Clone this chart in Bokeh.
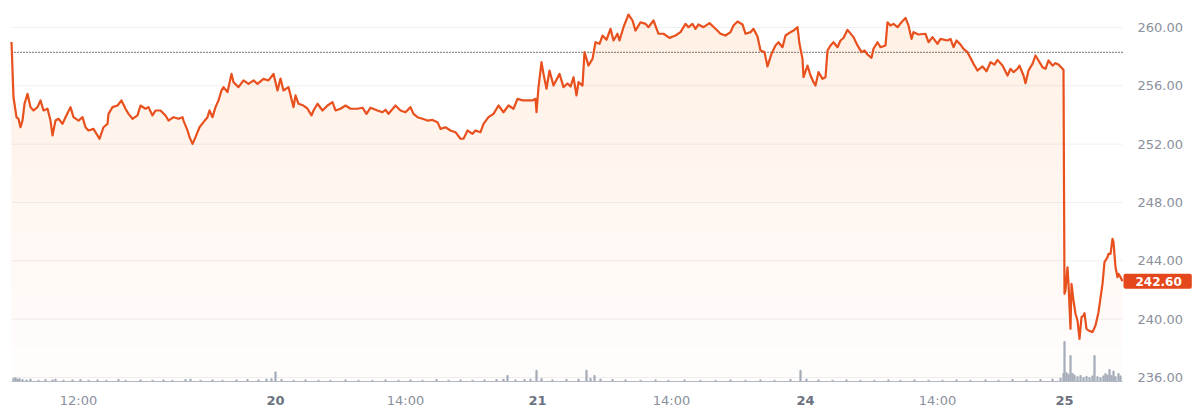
from bokeh.plotting import figure
from bokeh.models import Range1d
from bokeh.core.properties import value
from bokeh.embed import file_html
from bokeh.resources import INLINE

# trading-time position of each reading and the price
t = [11, 13, 16, 18, 20, 22, 24, 27, 30, 33,
     37, 40, 43, 47, 50, 52, 55, 58, 62, 65,
     70, 73, 78, 82, 85, 88, 93, 99, 103, 107,
     108, 112, 117, 121, 125, 128, 132, 137, 140, 145,
     148, 152, 155, 160, 165, 168, 173, 178, 182, 183,
     187, 189, 192, 195, 199, 203, 207, 209, 212, 215,
     218, 221, 223, 227, 231, 233, 238, 243, 248, 253,
     257, 263, 268, 273, 277, 280, 283, 288, 293, 295,
     298, 303, 307, 311, 313, 317, 322, 327, 332, 335,
     340, 345, 350, 357, 362, 366, 370, 377, 382, 385,
     388, 395, 400, 405, 410, 413, 417, 422, 427, 432,
     437, 440, 445, 450, 455, 460, 463, 467, 472, 475,
     480, 483, 488, 493, 498, 503, 508, 513, 517, 522,
     527, 532, 535, 536, 538, 541, 543, 546, 549, 553,
     559, 563, 567, 570, 573, 576, 578, 582, 584, 588,
     592, 595, 599, 602, 606, 610, 613, 617, 619, 623,
     628, 632, 635, 640, 645, 648, 653, 658, 663, 669,
     675, 680, 685, 688, 692, 695, 698, 703, 709, 715,
     720, 725, 730, 733, 737, 742, 745, 750, 753, 757,
     760, 764, 767, 771, 775, 778, 782, 785, 790, 793,
     797, 799, 802, 803, 807, 810, 813, 815, 818, 822,
     825, 827, 830, 833, 837, 840, 843, 847, 853, 857,
     861, 864, 867, 871, 873, 877, 880, 885, 887, 890,
     893, 897, 901, 905, 908, 911, 913, 918, 925, 928,
     932, 937, 940, 947, 950, 953, 956, 960, 963, 967,
     971, 973, 977, 982, 986, 990, 994, 997, 1002, 1007,
     1010, 1013, 1017, 1019, 1023, 1025, 1028, 1032, 1035, 1038,
     1042, 1045, 1048, 1052, 1055, 1058, 1062, 1063, 1064, 1065,
     1067, 1068, 1070, 1071, 1073, 1075, 1077, 1079, 1081, 1083,
     1084, 1086, 1088, 1092, 1095, 1098, 1102, 1104, 1107, 1108,
     1110, 1112, 1113, 1115, 1117, 1118, 1120, 1122]

price = [259.0, 255.22, 253.85, 253.74, 253.16, 253.62, 254.77, 255.45, 254.54, 254.31,
         254.54, 255.0, 254.31, 254.43, 253.62, 252.6, 253.62, 253.74, 253.39, 253.85,
         254.54, 253.85, 253.62, 253.85, 253.16, 252.94, 253.05, 252.37, 253.16, 253.39,
         254.08, 254.54, 254.65, 255.0, 254.43, 254.08, 253.74, 253.97, 254.65, 254.43,
         254.54, 253.97, 254.31, 254.31, 253.97, 253.62, 253.85, 253.74, 253.85, 253.62,
         252.94, 252.48, 252.02, 252.48, 253.16, 253.51, 253.85, 254.31, 253.85, 254.54,
         255.0, 255.68, 255.91, 255.57, 256.82, 256.25, 255.91, 256.37, 256.14, 256.37,
         256.14, 256.48, 256.37, 256.82, 255.68, 256.5, 255.68, 255.91, 254.54, 255.34,
         254.77, 254.65, 254.43, 253.97, 254.31, 254.77, 254.31, 254.65, 254.88, 254.31,
         254.43, 254.65, 254.43, 254.43, 254.5, 254.08, 254.5, 254.31, 254.19, 254.36,
         254.08, 254.65, 254.31, 254.19, 254.54, 254.08, 253.85, 253.74, 253.62, 253.66,
         253.51, 253.05, 253.16, 252.94, 252.82, 252.37, 252.37, 252.94, 252.71, 252.94,
         252.82, 253.39, 253.85, 254.08, 254.65, 254.19, 254.65, 254.43, 255.11, 255.0,
         255.0, 255.0, 255.11, 254.19, 255.91, 257.62, 256.82, 255.8, 257.05, 256.02,
         256.82, 255.91, 256.16, 255.95, 256.59, 255.34, 256.25, 256.02, 258.31, 257.39,
         257.85, 258.99, 258.88, 259.45, 259.16, 259.91, 259.11, 259.57, 259.11, 260.02,
         260.89, 260.48, 259.79, 260.36, 260.25, 260.02, 260.48, 259.57, 259.57, 259.29,
         259.45, 259.68, 260.25, 260.02, 260.25, 259.91, 260.21, 260.02, 260.3, 259.91,
         259.57, 259.45, 259.68, 260.14, 260.41, 260.21, 259.57, 259.68, 259.91, 259.38,
         258.42, 258.31, 257.33, 258.19, 258.77, 258.99, 258.65, 259.45, 259.68, 259.79,
         260.02, 258.88, 257.85, 256.59, 257.39, 256.71, 256.25, 256.02, 256.94, 256.48,
         256.59, 258.42, 258.77, 258.99, 258.65, 259.11, 259.28, 259.84, 259.34, 258.77,
         258.31, 258.42, 258.15, 257.92, 258.54, 258.99, 258.65, 258.77, 260.36, 260.14,
         260.25, 260.02, 260.36, 260.66, 260.14, 259.22, 259.68, 259.52, 259.57, 258.99,
         259.34, 258.88, 259.22, 259.11, 259.22, 258.65, 259.11, 258.83, 258.54, 258.31,
         257.78, 257.51, 257.05, 257.33, 257.0, 257.62, 257.46, 257.78, 257.39, 256.71,
         257.17, 256.94, 257.17, 257.39, 256.71, 256.18, 257.05, 257.51, 258.08, 257.74,
         257.28, 257.17, 257.74, 257.39, 257.55, 257.46, 257.17, 257.1, 241.74, 241.97,
         243.56, 242.42, 239.34, 242.42, 241.28, 240.37, 239.91, 238.65, 240.14, 240.25,
         240.41, 239.34, 239.22, 239.11, 239.57, 240.48, 242.42, 243.91, 244.25, 244.48,
         244.48, 245.51, 245.28, 243.56, 242.88, 243.11, 242.88, 242.60]

prev_close = 258.3

vol_t = [13, 15, 17, 19, 22, 26, 30, 38, 45, 52,
         55, 63, 72, 80, 88, 97, 106, 118, 125, 140,
         152, 163, 172, 185, 190, 200, 212, 222, 236, 247,
         258, 266, 271, 275, 281, 293, 305, 318, 330, 345,
         358, 372, 385, 398, 410, 422, 436, 448, 460, 472,
         484, 496, 503, 507, 515, 524, 530, 536, 541, 552,
         566, 578, 586, 590, 594, 600, 612, 625, 640, 655,
         668, 684, 700, 715, 730, 745, 760, 774, 790, 800,
         806, 818, 832, 846, 860, 874, 888, 900, 914, 928,
         942, 956, 970, 985, 998, 1012, 1026, 1040, 1052, 1060,
         1063, 1064, 1066, 1068, 1070, 1072, 1074, 1077, 1080, 1083,
         1086, 1089, 1092, 1094, 1097, 1100, 1103, 1105, 1107, 1109,
         1111, 1113, 1115, 1118, 1120]
vol = [0.8, 1.0, 0.6, 0.7, 0.5, 0.4, 0.6, 0.3, 0.5, 0.4,
       0.6, 0.3, 0.4, 0.5, 0.3, 0.4, 0.3, 0.5, 0.3, 0.4,
       0.3, 0.4, 0.3, 0.5, 0.6, 0.3, 0.4, 0.3, 0.4, 0.5,
       0.4, 0.6, 0.7, 2.4, 0.5, 0.3, 0.4, 0.3, 0.3, 0.4,
       0.3, 0.3, 0.4, 0.3, 0.4, 0.3, 0.5, 0.3, 0.4, 0.3,
       0.4, 0.5, 0.6, 1.5, 0.4, 0.5, 0.6, 2.8, 0.7, 0.4,
       0.5, 0.6, 2.8, 0.8, 1.5, 0.6, 0.5, 0.4, 0.3, 0.4,
       0.3, 0.4, 0.3, 0.3, 0.4, 0.3, 0.4, 0.3, 0.5, 2.8,
       0.6, 0.4, 0.3, 0.4, 0.3, 0.3, 0.4, 0.3, 0.4, 0.3,
       0.3, 0.4, 0.3, 0.4, 0.3, 0.5, 0.4, 0.5, 0.6, 0.8,
       2.0, 10.0, 2.2, 1.8, 6.5, 2.0, 1.6, 1.2, 1.5, 1.0,
       1.3, 1.0, 1.4, 6.5, 1.2, 1.0, 1.4, 2.0, 1.6, 3.0,
       1.5, 2.6, 1.2, 2.0, 1.4]

y_ticks = [236, 240, 244, 248, 252, 256, 260]
time_ticks = [78, 405, 671, 937]
time_labels = ["12:00", "14:00", "14:00", "14:00"]
day_ticks = [275, 537, 805, 1064]
day_labels = ["20", "21", "24", "25"]

ORANGE = "#e8501e"
FILL = "#e65a3c"
FONT = value("DejaVu Sans")
W, H = 1198, 410
X_LEFT, X_RIGHT = 11, 1122          # span of the plotted period
PX = 14.583                          # pixels per price unit
TOP_PX, BASE_PX = 27, 381            # where 260 sits, where the baseline sits
Y_TOP = 260 + TOP_PX / PX
Y_BOTTOM = 260 - (H - TOP_PX) / PX
BASE = 260 - (BASE_PX - TOP_PX) / PX
VOL_PX = 4.0

p = figure(width=W, height=H, x_range=Range1d(0, W), y_range=Range1d(Y_BOTTOM, Y_TOP),
           x_axis_location=None, y_axis_location=None, min_border=0,
           output_backend="svg", toolbar_location=None)
p.outline_line_color = None
p.grid.visible = False
p.background_fill_color = "white"
p.border_fill_color = "white"
p.extra_y_ranges = {"vol": Range1d(-(H - BASE_PX) / VOL_PX, BASE_PX / VOL_PX)}

# horizontal grid
ng = len(y_ticks)
p.segment(x0=[X_LEFT] * ng, x1=[X_RIGHT] * ng, y0=y_ticks, y1=y_ticks,
          line_color="#eef0f3", line_width=1)

# soft fill under the line, stronger towards the top
n = len(t)
p.varea(x=t, y1=[BASE] * n, y2=price, fill_color=FILL, fill_alpha=0.016)
for lvl in range(238, 261, 2):
    p.varea(x=t, y1=[lvl] * n, y2=[max(v, lvl) for v in price],
            fill_color=FILL, fill_alpha=0.0082)

# volume at the bottom
p.vbar(x=vol_t, top=vol, bottom=0, width=1.2, y_range_name="vol", color="#a7aebb")
p.segment(x0=[X_LEFT], x1=[X_RIGHT], y0=[BASE], y1=[BASE], line_color="#b3b9c4", line_width=1)

# previous close
p.segment(x0=[X_LEFT], x1=[X_RIGHT], y0=[prev_close], y1=[prev_close],
          line_color="#222222", line_dash="1 2", line_width=1.2)

p.line(t, price, line_color=ORANGE, line_width=2.2, line_join="round")

# price axis labels on the right
p.text(x=[X_RIGHT] * ng, y=y_ticks, text=[f"{v:.2f}" for v in y_ticks], x_offset=15,
       text_align="left", text_baseline="middle", text_font=FONT,
       text_font_size="13px", text_color="#8a909c")

# time axis labels below
p.text(x=time_ticks, y=[BASE] * len(time_ticks), text=time_labels, y_offset=19,
       text_align="center", text_baseline="middle", text_font=FONT,
       text_font_size="13px", text_color="#8a909c")
p.text(x=day_ticks, y=[BASE] * len(day_ticks), text=day_labels, y_offset=19,
       text_align="center", text_baseline="middle", text_font=FONT,
       text_font_size="13px", text_font_style="bold", text_color="#6b7280")

# last price badge
p.text(x=[X_RIGHT], y=[price[-1]], text=[f"{price[-1]:.2f}"], x_offset=1,
       text_align="left", text_baseline="middle", text_color="white",
       text_font=FONT, text_font_style="bold", text_font_size="12px",
       background_fill_color="#e4471b", border_radius=2,
       padding=dict(left=12, right=10, top=3, bottom=3))

open("out.html", "w").write(file_html(p, INLINE))
